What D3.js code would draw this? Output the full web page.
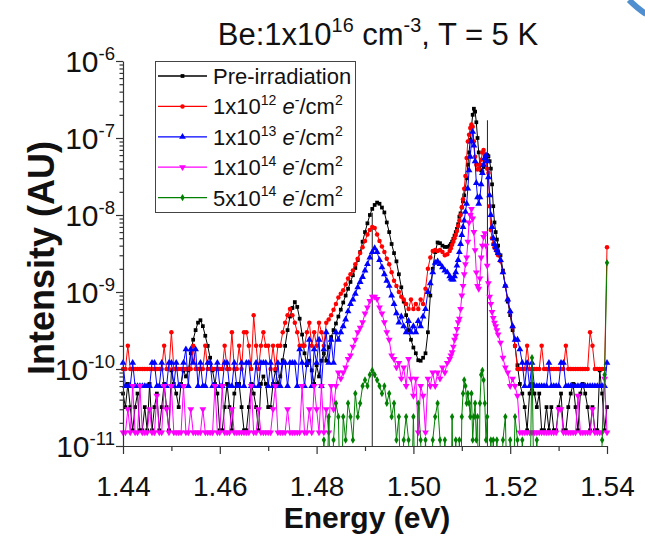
<!DOCTYPE html>
<html>
<head>
<meta charset="utf-8">
<script src="https://cdn.jsdelivr.net/npm/d3@7"></script>
<style>
  body { margin: 0; background: #fff; }
  svg text { font-family: "Liberation Sans", Arial, sans-serif; fill: #111; white-space: pre; }
</style>
</head>
<body>
<div id="chart"></div>
<script>
// photon energy grid (eV), finer sampling across the free-exciton peaks
const energy = [
  1.4400,1.4405,1.4410,1.4415,1.4420,1.4425,1.4430,1.4435,1.4440,1.4445,
  1.4450,1.4455,1.4460,1.4465,1.4470,1.4475,1.4480,1.4485,1.4490,1.4495,
  1.4500,1.4505,1.4510,1.4515,1.4520,1.4525,1.4530,1.4535,1.4540,1.4545,
  1.4550,1.4555,1.4560,1.4565,1.4570,1.4575,1.4580,1.4585,1.4590,1.4595,
  1.4600,1.4605,1.4610,1.4615,1.4620,1.4625,1.4630,1.4635,1.4640,1.4645,
  1.4650,1.4655,1.4660,1.4665,1.4670,1.4675,1.4680,1.4685,1.4690,1.4695,
  1.4700,1.4705,1.4710,1.4715,1.4720,1.4725,1.4730,1.4735,1.4740,1.4745,
  1.4750,1.4755,1.4760,1.4765,1.4770,1.4775,1.4780,1.4785,1.4790,1.4795,
  1.4800,1.4805,1.4810,1.4815,1.4820,1.4825,1.4830,1.4835,1.4840,1.4845,
  1.4850,1.4855,1.4860,1.4865,1.4870,1.4875,1.4880,1.4885,1.4890,1.4895,
  1.4900,1.4905,1.4910,1.4915,1.4920,1.4925,1.4930,1.4935,1.4940,1.4945,
  1.4950,1.4955,1.4960,1.4965,1.4970,1.4975,1.4980,1.4985,1.4990,1.4995,
  1.5000,1.5005,1.5010,1.5015,1.5020,1.5025,1.5030,1.5035,1.5040,1.5045,
  1.5050,1.5055,1.5060,1.5065,1.5070,
  1.5075,1.50775,1.5080,1.50825,1.5085,1.50875,1.5090,1.50925,1.5095,1.50975,
  1.5100,1.51025,1.5105,1.51075,1.5110,1.51125,1.5115,1.51175,1.5120,1.51225,
  1.5125,1.51275,1.5130,1.51325,1.5135,1.51375,1.5140,1.51425,1.5145,1.51475,
  1.5150,1.51525,1.5155,1.51575,1.5160,1.51625,1.5165,1.51675,1.5170,1.51725,
  1.5175,1.5180,1.5185,1.5190,1.5195,1.5200,1.5205,1.5210,1.5215,1.5220,
  1.5225,1.5230,1.5235,1.5240,1.5245,1.5250,1.5255,1.5260,1.5265,1.5270,
  1.5275,1.5280,1.5285,1.5290,1.5295,1.5300,1.5305,1.5310,1.5315,1.5320,
  1.5325,1.5330,1.5335,1.5340,1.5345,1.5350,1.5355,1.5360,1.5365,1.5370,
  1.5375,1.5380,1.5385,1.5390,1.5395,1.5400
];

// intensities in units of 1e-11 AU; 0.1 means the point sits below the axis floor
const preIrradiation = [
  4.8,3.2,6.4,3.2,1.6,3.2,4.8,1.6,1.6,3.2,
  1.6,6.4,1.6,3.2,4.8,1.6,3.2,6.4,3.2,1.6,
  9.6,6.4,4.8,3.2,6.4,9.6,8,9.6,16,24,
  32,40,43,36,27,20,14,9.6,6.4,4.8,
  1.6,1.6,3.2,6.4,3.2,1.6,4.8,6.4,6.4,3.2,
  1.6,1.6,3.2,6.4,4.8,3.2,1.6,6.4,8,6.4,
  3.2,3.2,6.4,9.6,6.4,8,13,20,32,48,
  62,74,64,45,28,16,11.2,12.8,9.6,6.4,
  11.2,8,12.8,16,12.8,19.2,26,32,39,48,
  59,73,90,110,135,165,205,260,330,450,
  600,780,1000,1200,1350,1450,1400,1250,1080,800,
  600,420,320,250,170,115,75,50,32,24,
  19,16,13,12.8,14,16,30,90,200,330,
  440,430,400,385,385,
  400,420,450,490,540,600,660,760,950,1050,
  1250,1500,1800,2200,3000,4500,6500,9500,14000,20000,
  24000,22000,16000,10000,6500,4500,3800,3600,4200,5000,
  5700,6000,5800,5000,4000,2500,1300,800,600,480,
  400,300,190,120,75,50,32,20,11.2,6.4,
  4.8,3.2,1.6,4.8,6.4,4.8,3.2,4.8,1.6,1.6,
  3.2,1.6,3.2,1.6,1.6,3.2,4.8,1.6,1.6,3.2,
  4.8,6.4,3.2,1.6,4.8,6.4,4.8,3.2,1.6,3.2,
  1.6,1.6,9.6,4.8,1.6,3.2
];

const dose1e12 = [
  10,10,20,10,10,10,10,10,10,10,
  10,10,10,10,10,10,10,20,10,10,
  30,10,10,10,10,10,10,10,10,20,
  10,10,10,10,20,10,10,10,10,10,
  10,10,20,10,10,30,10,10,20,10,
  30,30,20,10,50,20,10,20,30,20,
  20,10,20,10,20,20,30,40,50,60,
  50,40,30,20,20,20,30,40,20,30,
  20,40,30,20,40,44,50,59,70,85,
  95,105,125,150,170,190,230,270,320,380,
  460,560,640,700,680,560,460,390,330,270,
  230,180,140,120,100,87,80,70,60,80,
  60,70,60,80,70,110,200,280,340,350,
  340,350,330,300,310,
  340,370,410,450,500,550,620,720,850,1000,
  1260,1600,2200,3200,5500,9000,11000,13500,15000,14000,
  9000,5700,4500,3900,4000,4500,5200,6500,7000,6000,
  5000,4000,3500,1300,640,500,420,380,360,330,
  300,250,180,120,80,55,35,20,10,10,
  10,10,20,10,10,10,10,10,20,10,
  10,10,10,10,10,10,10,10,20,10,
  10,10,10,10,10,10,10,10,30,20,
  10,10,10,10,10,380
];

const dose1e13 = [
  12,6,6,6,12,6,6,6,6,6,
  6,6,12,12,6,6,12,6,6,12,
  12,6,12,6,6,12,18,6,18,12,
  18,6,12,6,6,12,12,6,6,12,
  6,6,12,12,6,6,12,6,6,12,
  6,12,12,6,6,12,6,12,12,12,
  6,12,6,6,12,6,12,12,6,12,
  12,12,6,18,12,6,12,24,6,18,
  12,24,6,18,30,12,24,12,30,24,
  30,36,44,56,70,80,95,115,135,157,
  190,230,280,330,370,330,260,210,170,140,
  120,90,70,53,40,48,36,30,42,30,
  36,30,42,36,48,60,100,130,180,240,
  250,230,210,190,180,
  160,150,145,145,160,180,220,260,330,420,
  550,700,850,1100,1400,2200,3800,5700,9000,12000,
  8000,5000,2600,1700,1400,1700,2500,3500,4500,5500,
  6000,5000,3100,1800,1000,700,500,420,380,350,
  320,260,180,120,80,56,36,24,24,18,
  12,6,12,6,12,6,6,6,6,6,
  6,12,6,6,6,6,12,12,6,6,
  6,6,6,6,6,6,6,6,6,6,
  6,6,6,6,6,12
];

const dose1e14 = [
  1.5,1.5,3,1.5,6,1.5,1.5,6,1.5,1.5,
  1.5,3,1.5,1.5,4.5,1.5,1.5,6,3,1.5,
  6,1.5,1.5,1.5,1.5,6,1.5,1.5,3,1.5,
  1.5,1.5,1.5,3,1.5,1.5,1.5,1.5,6,1.5,
  1.5,6,1.5,1.5,1.5,3,1.5,1.5,1.5,1.5,
  1.5,1.5,1.5,6,1.5,1.5,3,1.5,1.5,1.5,
  1.5,1.5,3,6,1.5,1.5,1.5,1.5,3,1.5,
  1.5,1.5,1.5,1.5,6,1.5,1.5,3,1.5,6,
  3,1.5,6,1.5,3,1.5,6,3,6,9,
  7.5,9,10.5,13.5,15,19.5,24,30,34.5,40.5,
  52.5,63,76.5,87,87,81,63,52.5,40.5,30,
  24,15,13.5,10.5,12,7.5,10.5,6,13.5,7.5,
  4.5,7.5,1.5,6,4.5,1.5,7.5,6,9,6,
  9,7.5,10.5,9,12,
  13.5,15,16.5,19.5,24,27,33,40.5,45,60,
  90,120,170,230,280,450,800,1000,1200,900,
  600,350,180,120,110,150,280,400,520,580,
  400,220,130,87,70,55,46,40,36,32,
  28,22,14,10.5,9,6,7.5,6,4.5,1.5,
  1.5,1.5,1.5,1.5,1.5,1.5,1.5,1.5,1.5,1.5,
  1.5,1.5,1.5,1.5,1.5,3,3,1.5,1.5,1.5,
  1.5,1.5,1.5,4.5,1.5,1.5,1.5,1.5,1.5,3,
  1.5,1.5,1.5,1.5,7.5,1.5
];

const dose5e14 = [
  0.1,0.1,0.1,0.1,0.1,0.1,0.1,0.1,0.1,0.1,
  0.1,0.1,0.1,0.1,0.1,0.1,0.1,0.1,0.1,0.1,
  0.1,0.1,0.1,0.1,0.1,0.1,0.1,0.1,0.1,0.1,
  0.1,0.1,0.1,0.1,0.1,0.1,0.1,0.1,0.1,0.1,
  0.1,0.1,0.1,0.1,0.1,0.1,0.1,0.1,0.1,0.1,
  0.1,0.1,0.1,0.1,0.1,0.1,0.1,0.1,0.1,0.1,
  0.1,0.1,0.1,0.1,0.1,0.1,0.1,0.1,0.1,0.1,
  0.1,0.1,0.1,0.1,0.1,0.1,0.1,0.1,0.1,0.1,
  0.1,0.1,0.1,1.2,0.1,2.4,0.1,1.2,3.6,2.4,
  0.1,2.4,1.2,3.6,2.4,1.2,4.8,2.4,3.6,6,
  7.2,6,8.4,9.6,8.4,7.2,6,4.8,6,3.6,
  4.8,2.4,3.6,1.2,2.4,0.1,1.2,2.4,1.2,0.1,
  2.4,0.1,3.6,1.2,0.1,1.2,0.1,0.1,1.2,2.4,
  3.6,1.2,0.1,1.2,0.1,
  0.1,0.1,2.4,0.1,0.1,1.2,0.1,0.1,1.2,0.1,
  2.4,4.8,7.2,6,3.6,4.8,3.6,2.4,4.8,1.2,
  2.4,3.6,1.2,2.4,0.1,3.6,8.4,9.6,7.2,3.6,
  1.2,2.4,0.1,0.1,1.2,0.1,1.2,0.1,0.1,1.2,
  0.1,0.1,1.2,2.4,0.1,1.2,0.1,2.4,1.2,0.1,
  1.2,0.1,0.1,0.1,14,0.1,1.2,0.1,0.1,0.1,
  0.1,0.1,0.1,0.1,0.1,0.1,0.1,0.1,0.1,0.1,
  0.1,0.1,0.1,0.1,0.1,0.1,0.1,0.1,0.1,0.1,
  0.1,0.1,0.1,1.2,8.4,240
];

// two single-channel dropouts in the pre-irradiation scan (energy, last value before the drop)
const preDropEnergy = [1.4915, 1.5153];
const preDropTop = [1070, 17000];

const UNIT = 1e-11;
const xTicks = [1.44, 1.46, 1.48, 1.50, 1.52, 1.54];
const xMinorTicks = [1.45, 1.47, 1.49, 1.51, 1.53];
const yDecades = [-11, -10, -9, -8, -7, -6];

const seriesNames = ["Pre-irradiation", "1x10^12", "1x10^13", "1x10^14", "5x10^14"];
const seriesValues = [preIrradiation, dose1e12, dose1e13, dose1e14, dose5e14];
const seriesColors = ["#000000", "#ff0000", "#0000ff", "#ff00ff", "#008000"];
const seriesSymbols = [d3.symbolSquare, d3.symbolCircle, d3.symbolTriangle, d3.symbolTriangle, d3.symbolDiamond];
const symbolSizes = [14, 16, 20, 20, 16];
const symbolRotate = [0, 0, 0, 180, 0];

seriesValues.forEach((vals, i) => {
    if (vals.length !== energy.length) {
        throw new Error(seriesNames[i] + " has " + vals.length + " points, energy has " + energy.length);
    }
});

const width = 645, height = 536;
const plot = {left: 123, right: 607, top: 61, bottom: 446};

const svg = d3.select("#chart").append("svg")
    .attr("width", width)
    .attr("height", height);

const x = d3.scaleLinear().domain([1.44, 1.54]).range([plot.left, plot.right]);
const y = d3.scaleLog().domain([1e-11, 1e-6]).range([plot.bottom, plot.top]);

// superscripts and italics inside one text element
function richText(sel, parts, size) {
    let raised = false;
    parts.forEach(([str, kind]) => {
        const t = sel.append("tspan").text(str);
        if (kind === "sup") {
            t.attr("font-size", size * 0.64);
            if (!raised) t.attr("dy", -size * 0.42);
            raised = true;
        } else {
            if (raised) t.attr("dy", size * 0.42);
            raised = false;
            if (kind === "i") t.attr("font-style", "italic");
        }
    });
}

function legendParts(name) {
    if (!name.includes("^")) return [[name, ""]];
    const [mant, exp] = name.split("^");
    return [[mant, ""], [exp, "sup"], [" ", ""], ["e", "i"], ["-", "sup"], ["/cm", ""], ["2", "sup"]];
}

// data
svg.append("clipPath").attr("id", "plotClip")
    .append("rect")
    .attr("x", plot.left - 4).attr("y", plot.top - 10)
    .attr("width", plot.right - plot.left + 8)
    .attr("height", plot.bottom - plot.top + 10);

const dataLayer = svg.append("g").attr("clip-path", "url(#plotClip)");

const line = d3.line()
    .x(d => x(d.e))
    .y(d => y(d.v));

dataLayer.selectAll(".dropout")
    .data(preDropEnergy)
    .enter()
    .append("line")
    .attr("class", "dropout")
    .attr("x1", d => x(d)).attr("x2", d => x(d))
    .attr("y1", (d, i) => y(preDropTop[i] * UNIT))
    .attr("y2", plot.bottom + 5)
    .attr("stroke", "#222")
    .attr("stroke-width", 1);

seriesValues.forEach((vals, i) => {
    const pts = energy.map((e, j) => ({e: e, v: vals[j] * UNIT}));
    const g = dataLayer.append("g");
    g.append("path")
        .datum(pts)
        .attr("d", line)
        .attr("fill", "none")
        .attr("stroke", seriesColors[i])
        .attr("stroke-width", 1);
    const sym = d3.symbol().type(seriesSymbols[i]).size(symbolSizes[i]);
    g.selectAll("path.marker")
        .data(pts)
        .enter()
        .append("path")
        .attr("class", "marker")
        .attr("d", sym)
        .attr("transform", d => `translate(${x(d.e)},${y(d.v)}) rotate(${symbolRotate[i]})`)
        .attr("fill", seriesColors[i]);
});

// axes
const axisColor = "#333";

const yAxis = svg.append("g").attr("transform", `translate(${plot.left},0)`);
yAxis.call(d3.axisLeft(y).tickValues(yDecades.map(p => Math.pow(10, p))).tickSize(7).tickSizeOuter(0).tickFormat(""));
const yMinor = [];
yDecades.slice(0, -1).forEach(p => {
    for (let k = 2; k <= 9; k++) yMinor.push(k * Math.pow(10, p));
});
yAxis.append("g").call(d3.axisLeft(y).tickValues(yMinor).tickSize(3.5).tickFormat(""))
    .select(".domain").remove();

const yLabels = svg.append("g");
yDecades.forEach(p => {
    const t = yLabels.append("text")
        .attr("x", 115)
        .attr("y", y(Math.pow(10, p)) + 11)
        .attr("text-anchor", "end")
        .attr("font-size", 30);
    richText(t, [["10", ""], [String(p), "sup"]], 29);
});

const xAxis = svg.append("g").attr("transform", `translate(0,${plot.bottom})`);
xAxis.call(d3.axisBottom(x).tickValues(xTicks).tickSize(8).tickSizeOuter(0).tickFormat(d3.format(".2f")));
xAxis.selectAll("text")
    .attr("y", 30)
    .attr("dy", "0.71em")
    .attr("font-size", 28)
    .attr("font-family", null)
    .attr("fill", "#111");
xAxis.append("g").call(d3.axisBottom(x).tickValues(xMinorTicks).tickSize(5).tickFormat(""))
    .select(".domain").remove();

svg.selectAll(".domain, .tick line")
    .attr("stroke", axisColor)
    .attr("stroke-width", 1.2);

// titles
const title = svg.append("text")
    .attr("x", 378)
    .attr("y", 45)
    .attr("text-anchor", "middle")
    .attr("font-size", 31);
richText(title, [["Be:1x10", ""], ["16", "sup"], [" cm", ""], ["-3", "sup"], [", T = 5 K", ""]], 31);

svg.append("text")
    .attr("x", 367)
    .attr("y", 528)
    .attr("text-anchor", "middle")
    .attr("font-size", 30)
    .attr("font-weight", "bold")
    .text("Energy (eV)");

svg.append("text")
    .attr("transform", "translate(54,258) rotate(-90)")
    .attr("text-anchor", "middle")
    .attr("font-size", 36)
    .attr("font-weight", "bold")
    .text("Intensity (AU)");

// legend
const legend = svg.append("g");
legend.append("rect")
    .attr("x", 155.5).attr("y", 61.5)
    .attr("width", 200).attr("height", 151)
    .attr("fill", "#fff")
    .attr("stroke", "#444")
    .attr("stroke-width", 1);

seriesNames.forEach((name, i) => {
    const cy = 76 + i * 30.4;
    legend.append("line")
        .attr("x1", 158).attr("x2", 207)
        .attr("y1", cy).attr("y2", cy)
        .attr("stroke", seriesColors[i])
        .attr("stroke-width", 1.3);
    legend.append("path")
        .attr("d", d3.symbol().type(seriesSymbols[i]).size(symbolSizes[i]))
        .attr("transform", `translate(182.5,${cy}) rotate(${symbolRotate[i]})`)
        .attr("fill", seriesColors[i]);
    const t = legend.append("text")
        .attr("x", 213)
        .attr("y", cy + 8)
        .attr("font-size", 22);
    richText(t, legendParts(name), 22);
});

// corner decoration from the source screenshot
svg.append("path")
    .attr("d", "M629,0 Q638,9 646,14")
    .attr("fill", "none")
    .attr("stroke", "#4f8fd0")
    .attr("stroke-width", 6);
</script>
</body>
</html>
